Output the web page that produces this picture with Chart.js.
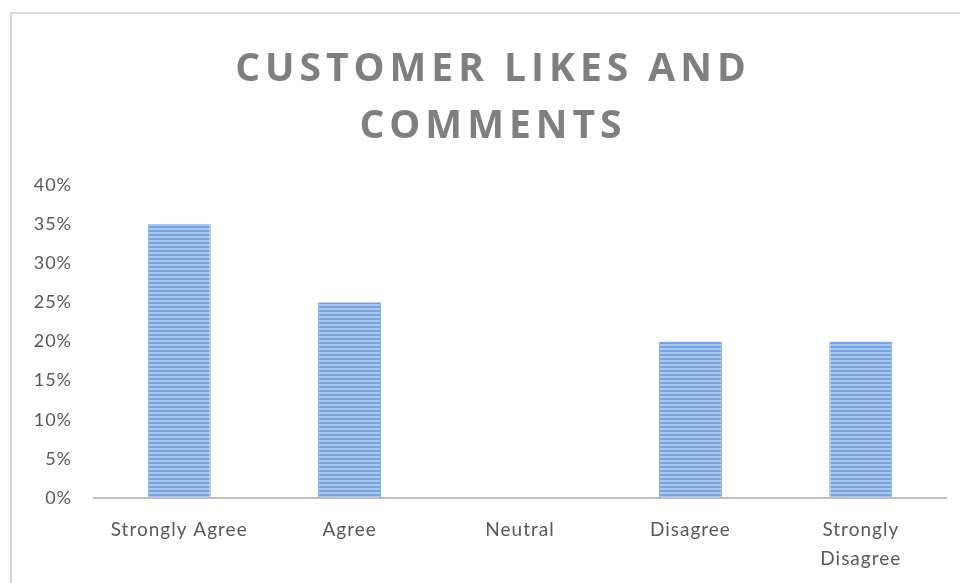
<!DOCTYPE html>
<html>
<head>
<meta charset="utf-8">
<script src="https://cdn.jsdelivr.net/npm/chart.js@4.4.1/dist/chart.umd.min.js"></script>
<style>
  html, body { margin: 0; padding: 0; background: #ffffff; }
  #frame {
    position: absolute; left: 10px; top: 12px;
    width: 948px; height: 569px;
    border: 2px solid #d9d9d9; border-right: none; border-bottom: none;
    background: #ffffff;
  }
  #frame canvas { display: block; }
</style>
</head>
<body>
<div id="frame"><canvas id="chart" width="948" height="569"></canvas></div>
<script>
// Survey responses, share of customers per answer (percent)
const categories = ['Strongly Agree', 'Agree', 'Neutral', 'Disagree', ['Strongly', 'Disagree']];
const shares = [35, 25, 0, 20, 20];
const titleLines = ['CUSTOMER LIKES AND', 'COMMENTS'];
const yMax = 40;
const yStep = 5;

// Horizontal-striped blue fill for the bars
function stripeFill() {
  const c = document.createElement('canvas');
  c.width = 4; c.height = 4;
  const g = c.getContext('2d');
  g.fillStyle = '#a9c7ee'; g.fillRect(0, 0, 4, 4);
  g.fillStyle = '#79a5de'; g.fillRect(0, 0, 4, 2);
  return g.createPattern(c, 'repeat');
}

// Letter tracking: wide for the title, slight for the axis labels
const tracking = {
  id: 'tracking',
  beforeDraw(chart) {
    chart.ctx.letterSpacing = '1px';
  },
  afterDraw(chart) {
    chart.ctx.letterSpacing = '0px';
  },
  beforeUpdate(chart) {
    const block = chart.titleBlock;
    if (block && !block._spaced) {
      const draw = block.draw;
      block.draw = function (area) {
        const ctx = chart.ctx;
        const prev = ctx.letterSpacing;
        ctx.save();
        // centre the title over the plot rather than the whole canvas
        ctx.translate(14, 0);
        ctx.letterSpacing = '5px';
        draw.call(this, area);
        ctx.restore();
        ctx.letterSpacing = prev;
      };
      block._spaced = true;
    }
  }
};

const ctx = document.getElementById('chart').getContext('2d');
new Chart(ctx, {
  type: 'bar',
  data: {
    labels: categories,
    datasets: [{
      data: shares,
      backgroundColor: stripeFill(),
      borderColor: '#7ea8de',
      borderWidth: { left: 1, right: 1, top: 0, bottom: 0 },
      borderSkipped: false,
      categoryPercentage: 1,
      barPercentage: 0.37
    }]
  },
  options: {
    responsive: false,
    animation: false,
    layout: { padding: { left: 0, right: 14, top: 0, bottom: 0 } },
    plugins: {
      legend: { display: false },
      tooltip: { enabled: false },
      title: {
        display: true,
        text: titleLines,
        color: '#7f7f7f',
        font: { family: 'Open Sans', size: 39, weight: 'bold', lineHeight: 1.46 },
        padding: { top: 27, bottom: 30 }
      }
    },
    scales: {
      x: {
        grid: { display: false, drawTicks: false },
        border: { display: true, color: '#bfbfbf', width: 2 },
        ticks: {
          color: '#595959',
          font: { family: 'Lato', size: 19, lineHeight: 1.55 },
          padding: 17,
          maxRotation: 0,
          autoSkip: false
        },
        afterFit(scale) { scale.height = 85; }
      },
      y: {
        min: 0,
        max: yMax,
        grid: { display: false, drawTicks: false },
        border: { display: false },
        ticks: {
          stepSize: yStep,
          color: '#595959',
          font: { family: 'Lato', size: 18 },
          padding: 22,
          callback: v => v + '%'
        },
        afterFit(scale) { scale.width = 82; }
      }
    }
  },
  plugins: [tracking]
});
</script>
</body>
</html>
